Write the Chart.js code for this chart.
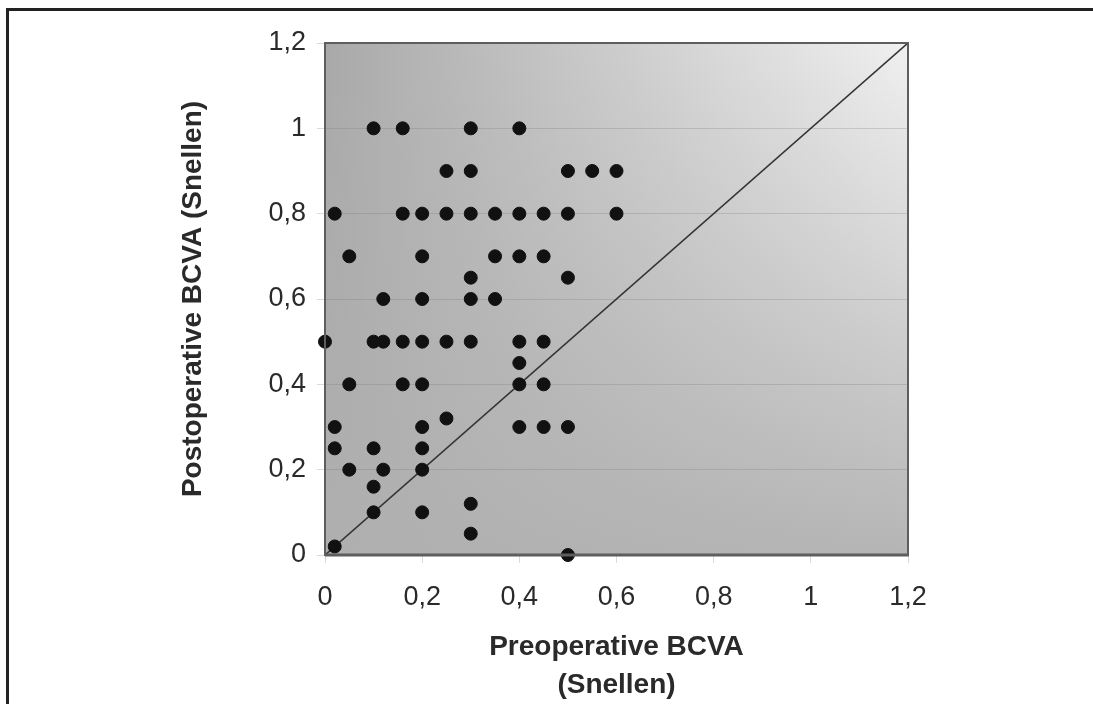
<!DOCTYPE html>
<html>
<head>
<meta charset="utf-8">
<script src="https://cdn.jsdelivr.net/npm/chart.js@4.4.0/dist/chart.umd.min.js"></script>
<style>
  body { margin: 0; background: #fff; }
  #wrap { width: 1093px; height: 704px; position: relative; }
</style>
</head>
<body>
<div id="wrap"><canvas id="myChart" width="1093" height="704"></canvas></div>
<script>
// preoperative / postoperative BCVA (Snellen), one entry per eye
const preop = [
    0.1, 0.16, 0.3, 0.4,
    0.25, 0.3, 0.5, 0.55, 0.6,
    0.02, 0.16, 0.2, 0.25, 0.3, 0.35, 0.4, 0.45, 0.5, 0.6,
    0.05, 0.2, 0.35, 0.4, 0.45,
    0.3, 0.5,
    0.12, 0.2, 0.3, 0.35,
    0, 0.1, 0.12, 0.16, 0.2, 0.25, 0.3, 0.4, 0.45,
    0.4,
    0.05, 0.16, 0.2, 0.4, 0.45,
    0.25,
    0.02, 0.2, 0.4, 0.45, 0.5,
    0.02, 0.1, 0.2,
    0.05, 0.12, 0.2,
    0.1,
    0.3,
    0.1, 0.2,
    0.3,
    0.02,
    0.5
]
const postop = [
    1, 1, 1, 1,
    0.9, 0.9, 0.9, 0.9, 0.9,
    0.8, 0.8, 0.8, 0.8, 0.8, 0.8, 0.8, 0.8, 0.8, 0.8,
    0.7, 0.7, 0.7, 0.7, 0.7,
    0.65, 0.65,
    0.6, 0.6, 0.6, 0.6,
    0.5, 0.5, 0.5, 0.5, 0.5, 0.5, 0.5, 0.5, 0.5,
    0.45,
    0.4, 0.4, 0.4, 0.4, 0.4,
    0.32,
    0.3, 0.3, 0.3, 0.3, 0.3,
    0.25, 0.25, 0.25,
    0.2, 0.2, 0.2,
    0.16,
    0.12,
    0.1, 0.1,
    0.05,
    0.02,
    0
]
// line of equality
const diagX = [0, 1.2]
const diagY = [0, 1.2]

const axisMin = 0
const axisMax = 1.2
const axisStep = 0.2

const FONT = "'Liberation Sans', Arial, sans-serif"

function commaLabel(v) {
    return String(Math.round(v * 10) / 10).replace('.', ',')
}

// background gradient + frame + plot border
const decor = {
    id: 'decor',
    beforeDraw(chart) {
        const ctx = chart.ctx
        const a = chart.chartArea
        ctx.save()
        ctx.fillStyle = '#ffffff'
        ctx.fillRect(0, 0, chart.width, chart.height)

        let g = ctx.createLinearGradient(a.left, 0, a.right, 0)
        g.addColorStop(0, '#a9a9a9')
        g.addColorStop(1, '#f0f0f0')
        ctx.fillStyle = g
        ctx.fillRect(a.left, a.top, a.right - a.left, a.bottom - a.top)

        let v = ctx.createLinearGradient(0, a.top, 0, a.bottom)
        v.addColorStop(0, 'rgba(176,176,176,0)')
        v.addColorStop(1, 'rgba(176,176,176,0.92)')
        ctx.fillStyle = v
        ctx.fillRect(a.left, a.top, a.right - a.left, a.bottom - a.top)
        ctx.restore()
    },
    afterDatasetsDraw(chart) {
        const ctx = chart.ctx
        const a = chart.chartArea
        ctx.save()
        ctx.strokeStyle = '#5e5e5e'
        ctx.lineWidth = 2
        ctx.strokeRect(a.left, a.top, a.right - a.left, a.bottom - a.top)
        ctx.lineWidth = 3
        ctx.beginPath()
        ctx.moveTo(a.left, a.bottom)
        ctx.lineTo(a.right + 1, a.bottom)
        ctx.stroke()
        // outer frame (top and left edges)
        ctx.fillStyle = '#222222'
        ctx.fillRect(6, 8, chart.width - 6, 3)
        ctx.fillRect(6, 8, 3, chart.height - 8)
        ctx.restore()
    }
}

const data = {
    datasets: [
        {
            type: 'scatter',
            label: 'Eyes',
            data: preop.map((x, i) => ({ x: x, y: postop[i] })),
            backgroundColor: '#111111',
            borderColor: '#111111',
            pointRadius: 6.5,
            pointHoverRadius: 6.5,
            clip: false,
            order: 1
        },
        {
            type: 'line',
            label: 'Equality',
            data: diagX.map((x, i) => ({ x: x, y: diagY[i] })),
            borderColor: '#333333',
            borderWidth: 1.6,
            pointRadius: 0,
            fill: false,
            order: 2
        }
    ]
}

const config = {
    data: data,
    options: {
        responsive: false,
        animation: false,
        layout: { padding: { top: 43, right: 185, left: 0, bottom: 0 } },
        plugins: {
            legend: { display: false },
            tooltip: { enabled: false }
        },
        scales: {
            x: {
                type: 'linear',
                min: axisMin,
                max: axisMax,
                afterFit(scale) { scale.height = 149 },
                grid: {
                    drawOnChartArea: false,
                    drawTicks: true,
                    tickLength: 8,
                    color: 'rgba(150,150,150,0.35)'
                },
                border: { display: false },
                ticks: {
                    stepSize: axisStep,
                    padding: 18,
                    maxRotation: 0,
                    color: '#2a2a2a',
                    font: { family: FONT, size: 27, lineHeight: 1.2 },
                    callback: v => commaLabel(v)
                },
                title: {
                    display: true,
                    text: ['Preoperative BCVA', '(Snellen)'],
                    color: '#2a2a2a',
                    font: { family: FONT, size: 28, weight: 'bold', lineHeight: 1.36 },
                    padding: { top: 0, bottom: 0 }
                }
            },
            y: {
                type: 'linear',
                min: axisMin,
                max: axisMax,
                afterFit(scale) { scale.width = 325 },
                grid: {
                    drawTicks: true,
                    tickLength: 8,
                    color: 'rgba(110,110,110,0.25)'
                },
                border: { display: false },
                ticks: {
                    stepSize: axisStep,
                    padding: 11,
                    color: '#2a2a2a',
                    font: { family: FONT, size: 27, lineHeight: 1.2 },
                    callback: v => commaLabel(v)
                },
                title: {
                    display: true,
                    text: 'Postoperative BCVA (Snellen)',
                    color: '#2a2a2a',
                    font: { family: FONT, size: 28, weight: 'bold', lineHeight: 1.2 },
                    padding: { top: 176, bottom: 0 }
                }
            }
        }
    },
    plugins: [decor]
}

const myChart = new Chart(document.getElementById('myChart'), config)
</script>
</body>
</html>
